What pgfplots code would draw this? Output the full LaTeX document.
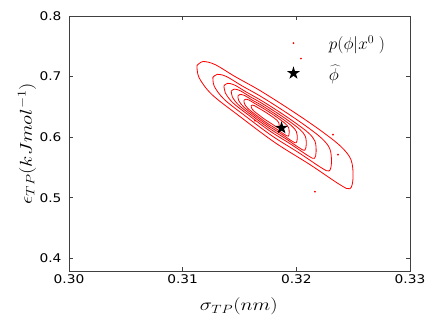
\documentclass[border=0pt]{standalone}
\usepackage{fontspec}
\setmainfont{DejaVu Sans}
\usepackage{pgfplots}
\pgfplotsset{compat=1.18}

% filled five-point star, like matplotlib's '*'
\pgfdeclareplotmark{fstar}{%
  \pgfpathmoveto{\pgfpointpolar{90}{\pgfplotmarksize}}%
  \pgfpathlineto{\pgfpointpolar{126}{0.382\pgfplotmarksize}}%
  \pgfpathlineto{\pgfpointpolar{162}{\pgfplotmarksize}}%
  \pgfpathlineto{\pgfpointpolar{198}{0.382\pgfplotmarksize}}%
  \pgfpathlineto{\pgfpointpolar{234}{\pgfplotmarksize}}%
  \pgfpathlineto{\pgfpointpolar{270}{0.382\pgfplotmarksize}}%
  \pgfpathlineto{\pgfpointpolar{306}{\pgfplotmarksize}}%
  \pgfpathlineto{\pgfpointpolar{342}{0.382\pgfplotmarksize}}%
  \pgfpathlineto{\pgfpointpolar{18}{\pgfplotmarksize}}%
  \pgfpathlineto{\pgfpointpolar{54}{0.382\pgfplotmarksize}}%
  \pgfpathclose\pgfusepathqfill}

\begin{document}
\begin{tikzpicture}
\begin{axis}[
  name=ax, scale only axis, width=341bp, height=255bp,
  xmin=0.30, xmax=0.33, ymin=0.379, ymax=0.8,
  xtick={0.30,0.31,0.32,0.33}, ytick={0.4,0.5,0.6,0.7,0.8},
  minor tick num=0, tick align=inside, major tick length=4bp,
  axis line style={black!75, line width=0.9bp},
  every tick/.style={black!75, line width=0.8bp},
  xticklabel={\scalebox{1.15}[1]{\pgfmathprintnumber[fixed,fixed zerofill,precision=2,assume math mode=true]{\tick}}},
  yticklabel={\scalebox{1.15}[1]{\pgfmathprintnumber[fixed,fixed zerofill,precision=1,assume math mode=true]{\tick}}},
  tick label style={font=\fontsize{12}{14}\selectfont},
  yticklabel style={xshift=-4bp},
  xlabel={\scalebox{1.2}[1]{$\sigma_{TP}(nm)$}},
  ylabel={\scalebox{1.2}[1]{$\epsilon_{TP}(kJmol^{-1})$}},
  label style={font=\fontsize{18}{20}\selectfont},
  xlabel style={at={(axis description cs:0.498,-0.139)}, anchor=center},
  ylabel style={at={(axis description cs:-0.123,0.5)}, anchor=center},
  legend style={draw=none, fill=none, at={(axis description cs:0.63,0.94)},
    anchor=north west, font=\fontsize{18}{20}\selectfont, row sep=10bp},
  legend cell align=left,
]
% contours of p(phi|x0), outermost to innermost
\addplot[red, line width=0.8bp, smooth, tension=0.55, forget plot] coordinates {
(0.31126,0.71816)(0.31179,0.72477)(0.31285,0.71981)(0.31461,0.70000)(0.31681,0.67684)
(0.31945,0.64543)(0.32191,0.61403)(0.32384,0.58593)(0.32481,0.56279)(0.32499,0.53304)
(0.32472,0.51485)(0.32384,0.52147)(0.32121,0.55452)(0.31813,0.59089)(0.31505,0.63386)
(0.31258,0.67022)(0.31144,0.69833)(0.31126,0.71816)};
\addplot[red, line width=0.8bp, smooth, tension=0.55, forget plot] coordinates {
(0.31266,0.69872)(0.31306,0.70375)(0.31386,0.70000)(0.31520,0.68490)(0.31687,0.66731)
(0.31888,0.64345)(0.32075,0.61958)(0.32222,0.59822)(0.32295,0.58064)(0.32309,0.55803)
(0.32289,0.54421)(0.32222,0.54923)(0.32021,0.57436)(0.31787,0.60199)(0.31553,0.63465)
(0.31366,0.66229)(0.31279,0.68365)(0.31266,0.69872)};
\addplot[red, line width=0.8bp, smooth, tension=0.55, forget plot] coordinates {
(0.31364,0.68495)(0.31396,0.68885)(0.31458,0.68592)(0.31562,0.67423)(0.31691,0.66057)
(0.31847,0.64205)(0.31992,0.62351)(0.32107,0.60694)(0.32164,0.59328)(0.32174,0.57574)
(0.32159,0.56500)(0.32107,0.56891)(0.31951,0.58841)(0.31769,0.60987)(0.31588,0.63522)
(0.31442,0.65667)(0.31375,0.67325)(0.31364,0.68495)};
\addplot[red, line width=0.8bp, smooth, tension=0.55, forget plot] coordinates {
(0.31428,0.67604)(0.31454,0.67922)(0.31504,0.67684)(0.31589,0.66731)(0.31694,0.65621)
(0.31821,0.64113)(0.31939,0.62606)(0.32032,0.61257)(0.32079,0.60147)(0.32087,0.58719)
(0.32074,0.57845)(0.32032,0.58164)(0.31906,0.59750)(0.31758,0.61496)(0.31610,0.63558)
(0.31492,0.65304)(0.31437,0.66652)(0.31428,0.67604)};
\addplot[red, line width=0.8bp, smooth, tension=0.55, forget plot] coordinates {
(0.31486,0.66795)(0.31506,0.67045)(0.31547,0.66857)(0.31613,0.66103)(0.31697,0.65225)
(0.31797,0.64031)(0.31891,0.62838)(0.31964,0.61769)(0.32001,0.60891)(0.32008,0.59760)
(0.31998,0.59069)(0.31964,0.59321)(0.31864,0.60577)(0.31747,0.61958)(0.31630,0.63591)
(0.31537,0.64973)(0.31493,0.66041)(0.31486,0.66795)};
\addplot[red, line width=0.8bp, smooth, tension=0.55, forget plot] coordinates {
(0.31539,0.66066)(0.31554,0.66257)(0.31585,0.66113)(0.31636,0.65539)(0.31699,0.64867)
(0.31776,0.63956)(0.31847,0.63046)(0.31903,0.62231)(0.31932,0.61560)(0.31937,0.60697)
(0.31929,0.60170)(0.31903,0.60362)(0.31827,0.61321)(0.31738,0.62374)(0.31648,0.63621)
(0.31577,0.64676)(0.31544,0.65490)(0.31539,0.66066)};
\addplot[red, line width=0.8bp, smooth, tension=0.55, forget plot] coordinates {
(0.31603,0.65174)(0.31612,0.65294)(0.31631,0.65205)(0.31663,0.64847)(0.31702,0.64431)
(0.31750,0.63865)(0.31794,0.63301)(0.31829,0.62795)(0.31846,0.62378)(0.31850,0.61842)
(0.31845,0.61516)(0.31829,0.61635)(0.31781,0.62229)(0.31726,0.62883)(0.31671,0.63657)
(0.31626,0.64312)(0.31606,0.64818)(0.31603,0.65174)};
% a few scattered samples
\addplot[only marks, mark=*, mark size=0.7bp, red, draw=none] coordinates {
(0.32322,0.6041)(0.32366,0.5711)(0.32164,0.5099)(0.31636,0.6273)(0.32041,0.7298)};
% reference point
\addplot[only marks, mark=fstar, mark size=6.8bp, black] coordinates {(0.3187,0.6152)};
\legend{\hspace{27bp}$p(\phi|x^0\;)$, \hspace{27bp}$\widehat{\phi}$}
\end{axis}
\pgfresetboundingbox
\useasboundingbox ([xshift=-69bp,yshift=-56bp]ax.south west) rectangle ([xshift=26bp,yshift=16bp]ax.north east);
\end{tikzpicture}
\end{document}
